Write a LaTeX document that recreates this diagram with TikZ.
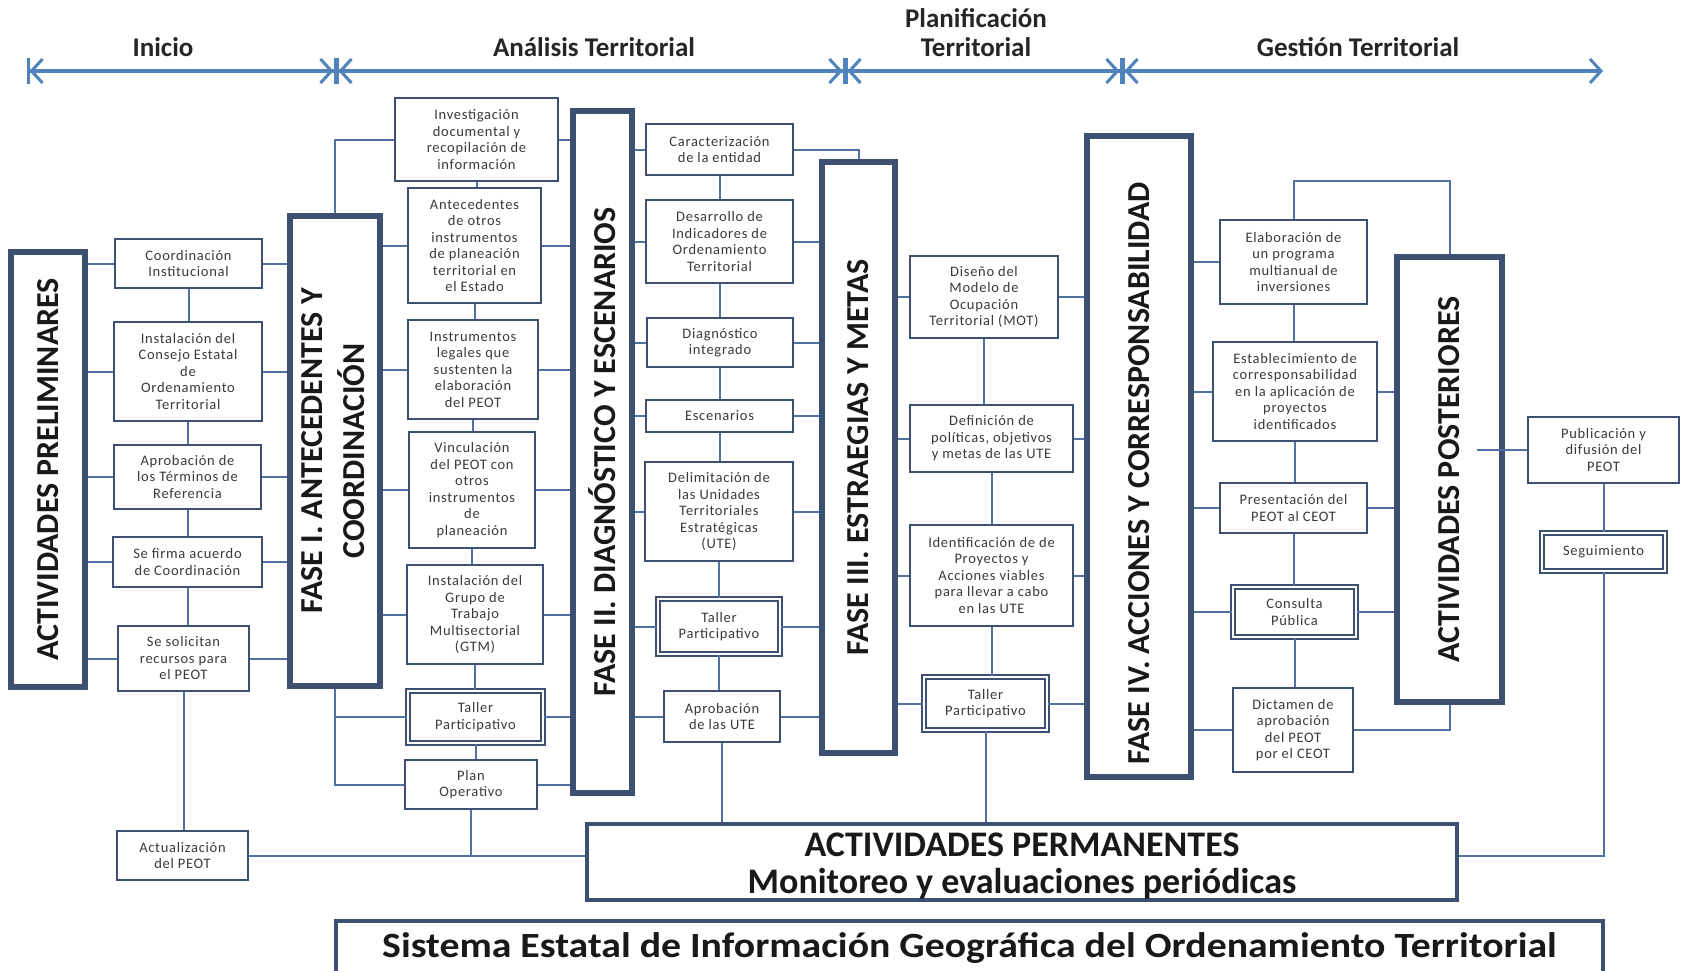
\documentclass[tikz,border=0pt]{standalone}
\usepackage{fontspec}
\setmainfont{Carlito}
\newfontfamily\bxfont[LetterSpace=5]{Carlito}
\newfontfamily\sisfont[FakeStretch=1.12]{Carlito}
\usetikzlibrary{arrows.meta}
\definecolor{bdr}{HTML}{3E5072}
\definecolor{cn}{HTML}{5172A0}
\definecolor{tl}{HTML}{5082BC}
\definecolor{tx}{HTML}{3A3A3A}
\newcommand\bx[7][sb]{\node[#1, minimum width={(#5-#3)*1pt}, minimum height={(#6-#4)*1pt}] (#2) at ({(#3+#5)/2},{(#4+#6)/2}) {#7};}
\tikzset{
 sb/.style={draw=bdr, line width=2.2pt, fill=white, inner sep=0pt, align=center, font=\bxfont\fontsize{14.5}{16.5}\selectfont, text=tx},
 dbl/.style={sb, double=white, double distance=2.6pt, line width=1.3pt},
 ph/.style={draw=bdr, line width=5.5pt, fill=white, inner sep=0pt, align=center, font=\bfseries\fontsize{32}{42}\selectfont, text=black!90},
 pm/.style={draw=bdr, line width=3.5pt, fill=white, inner sep=0pt, align=center, font=\bfseries\fontsize{36}{37}\selectfont, text=black!90},
 sis/.style={draw=bdr, line width=3.5pt, fill=white, inner sep=0pt, align=center, font=\sisfont\bfseries\fontsize{35.5}{40}\selectfont, text=black!90},
 cnx/.style={draw=cn, line width=2pt},
 tla/.style={draw=tl, line width=4.5pt},
 tlab/.style={font=\bfseries\fontsize{27}{29}\selectfont, text=black!85, align=center, inner sep=0pt},
 tlarr/.style={arrows={Bar[width=26pt,line width=2.5pt] Straight Barb[length=11pt, width=24pt, line width=3pt]-Straight Barb[length=11pt, width=24pt, line width=3pt] Bar[width=26pt,line width=2.5pt]}},
 tlend/.style={arrows={Bar[width=26pt,line width=2.5pt] Straight Barb[length=11pt, width=24pt, line width=3pt]-Straight Barb[length=11pt, width=24pt, line width=3pt]}},
}
\begin{document}
\begin{tikzpicture}[x=1pt,y=-1pt]
\clip (0,0) rectangle (1683,970);
\fill[white] (0,0) rectangle (1683,970);
% timeline
\coordinate (t0) at (27,71);
\coordinate (t1) at (336,71);
\coordinate (t2) at (845,71);
\coordinate (t3) at (1122,71);
\coordinate (t4) at (1603,71);
\draw[tla, tlarr] (t0) -- (t1);
\draw[tla, tlarr] (t1) -- (t2);
\draw[tla, tlarr] (t2) -- (t3);
\draw[tla, tlend] (t3) -- (t4);
\node[tlab] (lini) at (163,47) {Inicio};
\node[tlab] (lana) at (594,47) {Análisis Territorial};
\node[tlab] (lpla) at (976,33) {Planificación\\Territorial};
\node[tlab] (lges) at (1358,47) {Gestión Territorial};
% phase boxes
\bx[ph]{ap}{11}{252}{85}{687}{\rotatebox{90}{ACTIVIDADES PRELIMINARES}}
\bx[ph]{f1}{290}{216}{380}{686}{\rotatebox{90}{\begin{tabular}{@{}c@{}}FASE I. ANTECEDENTES Y\\COORDINACIÓN\end{tabular}}}
\bx[ph]{f2}{573}{111}{632}{793}{\rotatebox{90}{FASE II. DIAGNÓSTICO Y ESCENARIOS}}
\bx[ph]{f3}{822}{162}{895}{753}{\rotatebox{90}{FASE III. ESTRAEGIAS Y METAS}}
\bx[ph]{f4}{1087}{136}{1191}{777}{\rotatebox{90}{FASE IV. ACCIONES Y CORRESPONSABILIDAD\hspace{34pt}}}
\bx[ph]{apo}{1397}{257}{1502}{702}{\rotatebox{90}{ACTIVIDADES POSTERIORES}}
% column 1
\bx{coord}{115}{239}{262}{288}{Coordinación\\Institucional}
\bx{inst}{114}{322}{262}{421}{Instalación del\\Consejo Estatal\\de\\Ordenamiento\\Territorial}
\bx{apro}{114}{445}{261}{509}{Aprobación de\\los Términos de\\Referencia}
\bx{firma}{113}{537}{262}{587}{Se firma acuerdo\\de Coordinación}
\bx{soli}{118}{626}{249}{691}{Se solicitan\\recursos para\\el PEOT}
\bx{actu}{117}{831}{248}{880}{Actualización\\del PEOT}
% column 2
\bx{inv}{395}{98}{558}{181}{Investigación\\documental y\\recopilación de\\información}
\bx{ante}{408}{188}{541}{303}{Antecedentes\\de otros\\instrumentos\\de planeación\\territorial en\\el Estado}
\bx{instr}{408}{320}{538}{419}{Instrumentos\\legales que\\sustenten la\\elaboración\\del PEOT}
\bx{vinc}{409}{432}{535}{548}{Vinculación\\del PEOT con\\otros\\instrumentos\\de\\planeación}
\bx{gtm}{407}{565}{543}{664}{Instalación del\\Grupo de\\Trabajo\\Multisectorial\\(GTM)}
\bx[dbl]{tal1}{408}{691}{543}{743}{Taller\\Participativo}
\bx{plan}{405}{760}{537}{809}{Plan\\Operativo}
% column 3
\bx{car}{646}{124}{793}{175}{Caracterización\\de la entidad}
\bx{des}{646}{200}{793}{283}{Desarrollo de\\Indicadores de\\Ordenamiento\\Territorial}
\bx{dia}{647}{318}{793}{367}{Diagnóstico\\integrado}
\bx{esc}{646}{400}{793}{432}{Escenarios}
\bx{del}{645}{462}{793}{561}{Delimitación de\\las Unidades\\Territoriales\\Estratégicas\\(UTE)}
\bx[dbl]{tal2}{658}{599}{780}{654}{Taller\\Participativo}
\bx{apr}{664}{691}{780}{742}{Aprobación\\de las UTE}
% column 4
\bx{dis}{910}{256}{1058}{338}{Diseño del\\Modelo de\\Ocupación\\Territorial (MOT)}
\bx{def}{910}{405}{1073}{472}{Definición de\\políticas, objetivos\\y metas de las UTE}
\bx{ide}{910}{525}{1073}{626}{Identificación de de\\Proyectos y\\Acciones viables\\para llevar a cabo\\en las UTE}
\bx[dbl]{tal3}{924}{677}{1047}{730}{Taller\\Participativo}
% column 5
\bx{ela}{1220}{220}{1367}{304}{Elaboración de\\un programa\\multianual de\\inversiones}
\bx{est}{1213}{342}{1377}{441}{Establecimiento de\\corresponsabilidad\\en la aplicación de\\proyectos\\identificados}
\bx{pre}{1220}{483}{1367}{533}{Presentación del\\PEOT al CEOT}
\bx[dbl]{con}{1233}{587}{1356}{637}{Consulta\\Pública}
\bx{dic}{1233}{688}{1353}{772}{Dictamen de\\aprobación\\del PEOT\\por el CEOT}
% right column
\bx{pub}{1528}{417}{1679}{483}{Publicación y\\difusión del\\PEOT}
\bx[dbl]{seg}{1542}{533}{1665}{571}{Seguimiento}
% bottom
\bx[pm]{perm}{587}{824}{1457}{900}{\raisebox{-6pt}[\height][\depth]{\begin{tabular}{@{}c@{}}ACTIVIDADES PERMANENTES\\Monitoreo y evaluaciones periódicas\end{tabular}}}
\bx[sis]{sis}{336}{921}{1603}{975}{Sistema Estatal de Información Geográfica del Ordenamiento Territorial}
% connectors
\foreach \n in {coord,inst,apro,firma,soli} {
  \draw[cnx] (\n.west) -- (\n.west -| ap.east);
  \draw[cnx] (\n.east) -- (\n.east -| f1.west);
}
\foreach \a/\c in {coord/inst,inst/apro,apro/firma,firma/soli,soli/actu,inv/ante,ante/instr,instr/vinc,vinc/gtm,gtm/tal1,tal1/plan,car/des,des/dia,dia/esc,esc/del,del/tal2,tal2/apr,dis/def,def/ide,ide/tal3,ela/est,est/pre,pre/con,con/dic,pub/seg}
  \draw[cnx] (\a.south) -- (\a.south |- \c.north);
\draw[cnx] (actu.east) -- (actu.east -| perm.west);
\draw[cnx] (plan.south) -- (plan.south |- actu.east);
\draw[cnx] (f1.north) |- (inv.west);
\draw[cnx] (f1.south) |- (tal1.west);
\draw[cnx] (f1.south) |- (plan.west);
\foreach \n in {ante,instr,vinc,gtm} \draw[cnx] (\n.west) -- (\n.west -| f1.east);
\foreach \n in {inv,ante,instr,vinc,gtm,tal1,plan} \draw[cnx] (\n.east) -- (\n.east -| f2.west);
\foreach \n in {car,des,dia,esc,del,tal2,apr} \draw[cnx] (\n.west) -- (\n.west -| f2.east);
\foreach \n in {des,dia,esc,del,tal2,apr} \draw[cnx] (\n.east) -- (\n.east -| f3.west);
\draw[cnx] (car.east) -| (f3.north);
\draw[cnx] (apr.south) -- (apr.south |- perm.north);
\foreach \n in {dis,def,ide,tal3} {
  \draw[cnx] (\n.west) -- (\n.west -| f3.east);
  \draw[cnx] (\n.east) -- (\n.east -| f4.west);
}
\draw[cnx] (tal3.south) -- (tal3.south |- perm.north);
\foreach \n in {ela,est,pre,con,dic} \draw[cnx] (\n.west) -- (\n.west -| f4.east);
\foreach \n in {est,pre,con} \draw[cnx] (\n.east) -- (\n.east -| apo.west);
\coordinate (jt) at (1448,181);
\draw[cnx] (ela.north) |- (jt) -| (apo.north);
\draw[cnx] (dic.east) -| (apo.south);
\draw[cnx] (pub.west) -- ([xshift=-28pt]apo.east |- pub.west);
\draw[cnx] (seg.south) |- (perm.east |- actu.east);
\end{tikzpicture}
\end{document}
